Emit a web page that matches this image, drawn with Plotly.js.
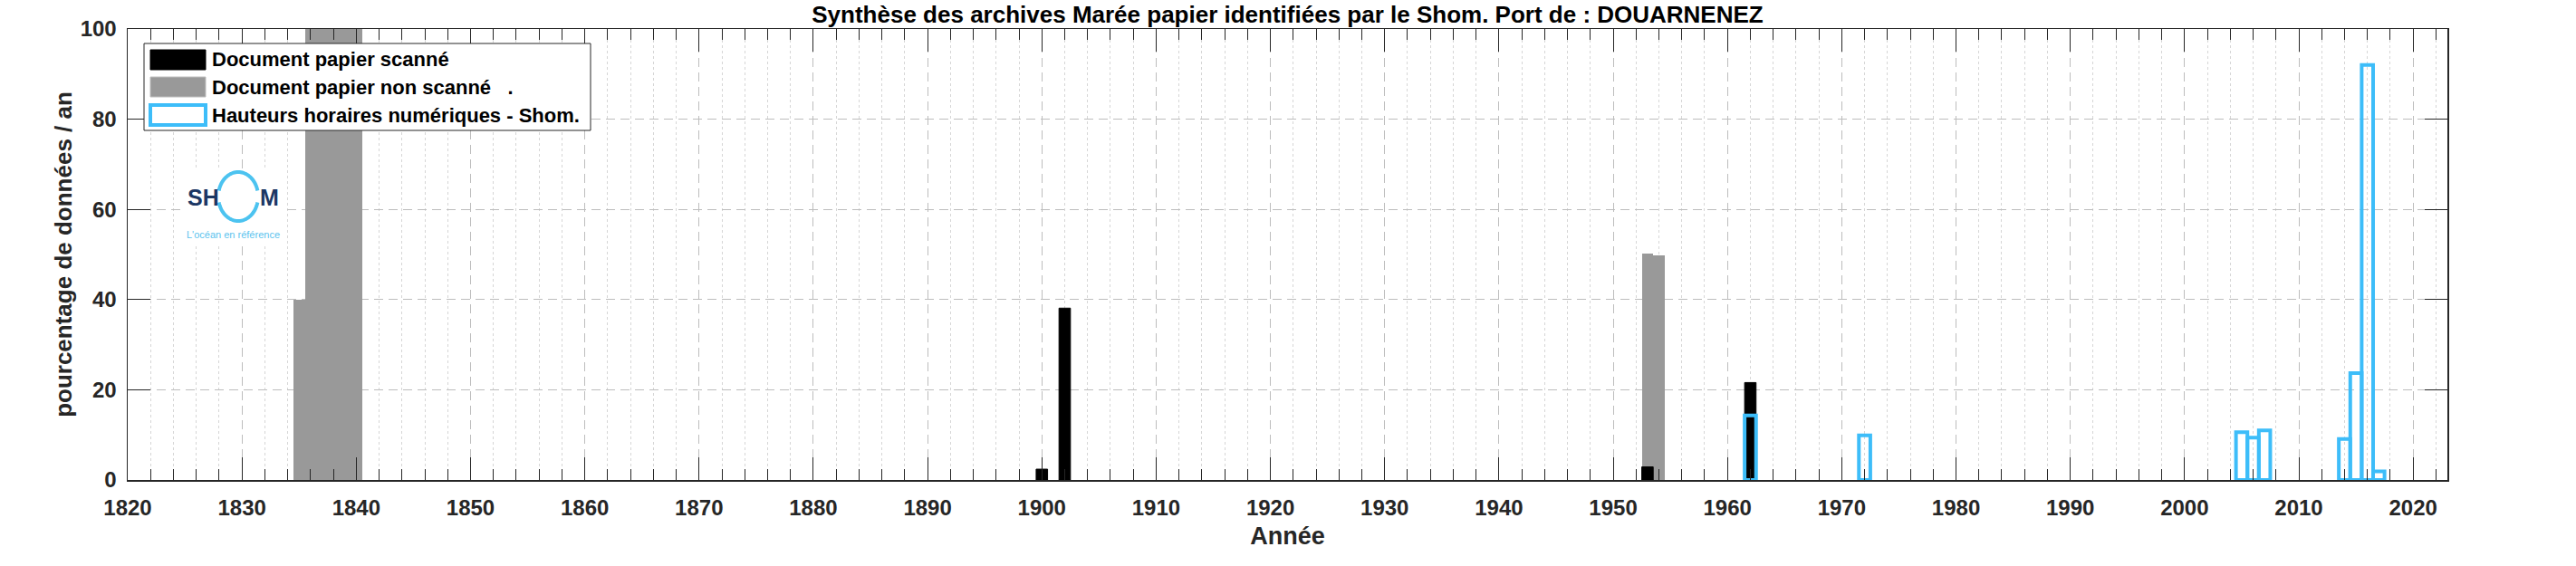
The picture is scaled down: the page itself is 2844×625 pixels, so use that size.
<!DOCTYPE html>
<html><head><meta charset="utf-8">
<script src="https://cdn.plot.ly/plotly-3.0.1.min.js"></script>
<style>html,body{margin:0;padding:0;background:#fff;} #chart{width:2844px;height:625px;}</style>
</head><body><div id="chart"></div>
<script>
// ---- data ----
const yearsScanned = [1900, 1902, 1953, 1962];
const valuesScanned = [2.4, 38.1, 2.9, 21.6];
const yearsNotScanned = [1835, 1836, 1837, 1838, 1839, 1840, 1953, 1954];
const valuesNotScanned = [40, 100, 100, 100, 100, 100, 50.2, 49.7];
const yearsHourly = [1962, 1972, 2005, 2006, 2007, 2014, 2015, 2016, 2017];
const valuesHourly = [14.3, 9.9, 10.6, 9.4, 11.0, 9.1, 23.7, 92.0, 1.9];
const legendLabels = ["Document papier scanné", "Document papier non scanné\u00a0\u00a0\u00a0.", "Hauteurs horaires numériques - Shom."];
const titleText = "Synthèse des archives Marée papier identifiées par le Shom. Port de : DOUARNENEZ";
const xTitle = "Année";
const yTitle = "pourcentage de données / an";
const yTickVals = [0, 20, 40, 60, 80, 100];
const logoLetters = ["SH", "M"];
const logoTagline = "L'océan en référence";

// ---- layout geometry ----
const W = 2844, H = 625, ML = 141, MR = 142, MT = 32, MB = 95;
const PW = W - ML - MR, PH = H - MT - MB;
const px = v => (v - ML) / PW;
const py = v => (H - MB - v) / PH;
const FONT = "Liberation Sans, Arial, Helvetica, sans-serif";
const INK = "#262626";
const BLUE = "#3dbdf9";

const traces = [
  {type: "bar", x: yearsNotScanned, y: valuesNotScanned, width: 1, name: legendLabels[1],
   marker: {color: "#999999", line: {color: "#999999", width: 0}}, showlegend: false, hoverinfo: "skip"},
  {type: "bar", x: yearsScanned, y: valuesScanned, width: 1, name: legendLabels[0],
   marker: {color: "#000000", line: {color: "#000000", width: 1}}, showlegend: false, hoverinfo: "skip"},
  {type: "bar", x: yearsHourly, y: valuesHourly, width: 1, name: legendLabels[2],
   marker: {color: "rgba(0,0,0,0)", line: {color: BLUE, width: 4}}, showlegend: false, hoverinfo: "skip"}
];

const shapes = [];
const annotations = [];

// logo (white backing, ring, letters, tagline)
shapes.push({type: "rect", xref: "paper", yref: "paper", x0: px(200), x1: px(312), y0: py(187), y1: py(270),
  fillcolor: "#ffffff", line: {width: 0}, layer: "above"});
function arcPath(cx, cy, rx, ry, a0, a1) {
  let d = "";
  const n = 40;
  for (let i = 0; i <= n; i++) {
    const a = (a0 + (a1 - a0) * i / n) * Math.PI / 180;
    const X = px(cx + rx * Math.cos(a)), Y = py(cy - ry * Math.sin(a));
    d += (i === 0 ? "M" : "L") + X.toFixed(6) + "," + Y.toFixed(6);
  }
  return d;
}
shapes.push({type: "path", xref: "paper", yref: "paper", path: arcPath(263, 217, 22, 27, 14, 166), line: {color: "#4cc3f0", width: 4}, layer: "above"});
shapes.push({type: "path", xref: "paper", yref: "paper", path: arcPath(263, 217, 22, 27, 194, 346), line: {color: "#4cc3f0", width: 4}, layer: "above"});
annotations.push({xref: "paper", yref: "paper", x: px(224), y: py(218), text: logoLetters[0], showarrow: false,
  xanchor: "center", yanchor: "middle", font: {family: FONT, size: 25, weight: "bold", color: "#1c3764"}});
annotations.push({xref: "paper", yref: "paper", x: px(297), y: py(218), text: logoLetters[1], showarrow: false,
  xanchor: "center", yanchor: "middle", font: {family: FONT, size: 25, weight: "bold", color: "#1c3764"}});
annotations.push({xref: "paper", yref: "paper", x: px(257), y: py(259), text: logoTagline, showarrow: false,
  xanchor: "center", yanchor: "middle", font: {family: FONT, size: 11, color: "#5cc3ee"}});

// legend box
shapes.push({type: "rect", xref: "paper", yref: "paper", x0: px(159), x1: px(652), y0: py(48), y1: py(144),
  fillcolor: "#ffffff", line: {color: INK, width: 1}, layer: "above"});
const swatches = [
  {y0: 55, y1: 77, fill: "#000000", line: {color: "#000000", width: 1}},
  {y0: 85, y1: 107, fill: "#999999", line: {color: "#bdbdbd", width: 1}},
  {y0: 116, y1: 138, fill: "#ffffff", line: {color: BLUE, width: 4}}
];
swatches.forEach((s, i) => {
  shapes.push({type: "rect", xref: "paper", yref: "paper", x0: px(166), x1: px(227), y0: py(s.y0), y1: py(s.y1),
    fillcolor: s.fill, line: s.line, layer: "above"});
  annotations.push({xref: "paper", yref: "paper", x: px(232), y: py((s.y0 + s.y1) / 2), text: legendLabels[i],
    showarrow: false, xanchor: "left", yanchor: "middle",
    font: {family: FONT, size: 22, weight: "bold", color: "#000000"}});
});

const layout = {
  width: W, height: H,
  margin: {l: ML, r: MR, t: MT, b: MB, pad: 0},
  paper_bgcolor: "#ffffff", plot_bgcolor: "#ffffff",
  barmode: "overlay", bargap: 0,
  showlegend: false,
  font: {family: FONT, color: INK},
  title: {text: titleText, x: 0.5, xref: "paper", xanchor: "center", y: 1 - 16 / H, yref: "container", yanchor: "middle",
    font: {family: FONT, size: 26, weight: "bold", color: "#000000"}},
  xaxis: {
    range: [1820, 2023], tickmode: "linear", tick0: 1820, dtick: 10,
    ticks: "inside", ticklen: 25, tickwidth: 1, tickcolor: INK,
    showline: true, linecolor: INK, linewidth: 1.5, mirror: "allticks",
    showgrid: true, gridcolor: "#bdbdbd", griddash: "10px,6px", gridwidth: 1,
    zeroline: false,
    tickfont: {family: FONT, size: 24, weight: "bold", color: INK},
    ticklabelstandoff: 9,
    minor: {dtick: 2, tick0: 1820, ticks: "inside", ticklen: 12, tickwidth: 1, tickcolor: INK,
      showgrid: true, gridcolor: "#d6d6d6", griddash: "dot", gridwidth: 1},
    title: {text: xTitle, standoff: 9, font: {family: FONT, size: 27, weight: "bold", color: INK}}
  },
  yaxis: {
    range: [0, 100], tickmode: "array", tickvals: yTickVals,
    ticks: "inside", ticklen: 25, tickwidth: 1, tickcolor: INK,
    showline: true, linecolor: INK, linewidth: 1.5, mirror: "allticks",
    showgrid: true, gridcolor: "#bdbdbd", griddash: "10px,6px", gridwidth: 1,
    zeroline: false,
    tickfont: {family: FONT, size: 24, weight: "bold", color: INK},
    ticklabelstandoff: 6,
    title: {text: yTitle, standoff: 1, font: {family: FONT, size: 26, weight: "bold", color: INK}}
  },
  shapes: shapes,
  annotations: annotations
};

Plotly.newPlot("chart", traces, layout, {displayModeBar: false, staticPlot: true});
</script>
</body></html>
